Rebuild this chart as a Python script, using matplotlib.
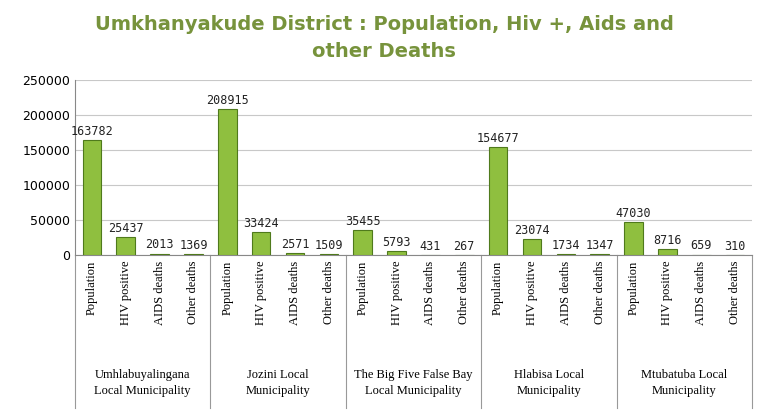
import matplotlib
matplotlib.use("Agg")
import matplotlib.pyplot as plt

groups = ["Umhlabuyalingana\nLocal Municipality", "Jozini Local\nMunicipality",
          "The Big Five False Bay\nLocal Municipality", "Hlabisa Local\nMunicipality",
          "Mtubatuba Local\nMunicipality"]
measures = ["Population", "HIV positive", "AIDS deaths", "Other deaths"]
values = [
    [163782, 25437, 2013, 1369],
    [208915, 33424, 2571, 1509],
    [35455, 5793, 431, 267],
    [154677, 23074, 1734, 1347],
    [47030, 8716, 659, 310],
]

fig = plt.figure(figsize=(7.68, 4.18), dpi=100)
ax = fig.add_axes([75/768, 1-255/418, 677/768, 175/418])
xs, vals, labs = [], [], []
for g, row in enumerate(values):
    for m, v in enumerate(row):
        xs.append(g*4+m); vals.append(v); labs.append(measures[m])
ax.bar(xs, vals, width=0.55, color="#8fbf3f", edgecolor="#4f7a1c", linewidth=0.8, zorder=3)
for x, v in zip(xs, vals):
    ax.text(x, v+3000, str(v), ha="center", va="bottom", fontsize=8.5, color="#222222",
            family="DejaVu Sans Mono")
ax.set_xlim(-0.5, 19.5)
ax.set_ylim(0, 250000)
ax.set_yticks(range(0, 250001, 50000))
ax.tick_params(axis="y", labelsize=9, length=0)
ax.yaxis.grid(True, color="#c8c8c8", linewidth=0.8, zorder=0)
ax.set_xticks(xs)
ax.set_xticklabels(labs, rotation=90, fontsize=9, family="Liberation Serif")
ax.tick_params(axis="x", length=0, pad=4)
for s in ["top", "right"]:
    ax.spines[s].set_visible(False)
ax.spines["left"].set_color("#888888")
ax.spines["bottom"].set_color("#888888")
tr = ax.get_xaxis_transform()
for g in range(len(groups)+1):
    ax.plot([g*4-0.5]*2, [0, -0.874], transform=tr, clip_on=False, color="#999999", lw=0.8)
for g, name in enumerate(groups):
    ax.text(g*4+1.5, -0.73, name, transform=tr, ha="center", va="center", fontsize=9,
            family="Liberation Serif", linespacing=1.4)
fig.text(0.5, 1-38/418, "Umkhanyakude District : Population, Hiv +, Aids and\nother Deaths",
         ha="center", va="center", fontsize=14, fontweight="bold", color="#77933c", linespacing=1.5)
fig.savefig("out.png", dpi=100)
